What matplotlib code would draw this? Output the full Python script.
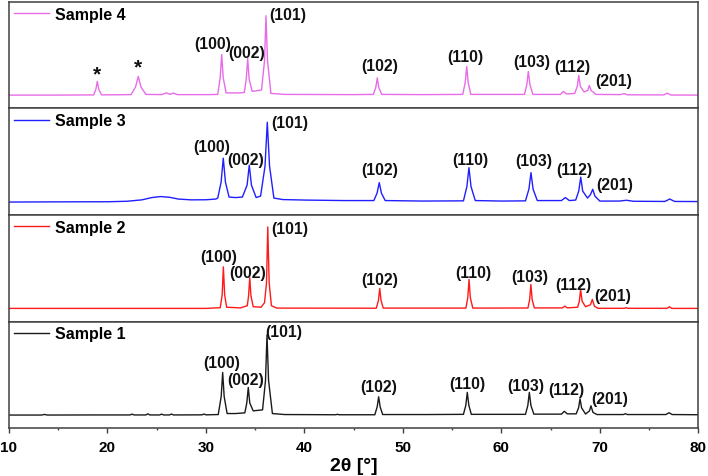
import numpy as np
import matplotlib
matplotlib.use('Agg')
import matplotlib.pyplot as plt

plt.rcParams['font.family'] = ['Liberation Sans', 'DejaVu Sans']
plt.rcParams['font.weight'] = 'bold'

# XRD traces: (2theta [deg], intensity [a.u.])
sample1 = [(10, 0.3), (13.3, 0.3), (13.6, 0.9), (13.9, 0.3), (18.8, 0.4), (22.3, 0.4), (22.5, 1.2), (22.7, 0.4),
           (23.9, 0.4), (24.1, 1.5), (24.3, 0.4), (25.3, 0.4), (25.5, 1.2), (25.7, 0.4), (26.3, 0.4), (26.5, 1.3),
           (26.7, 0.4), (29.6, 0.5), (29.8, 1.3), (30.0, 0.5), (31.25, 0.8), (31.55, 19), (31.70, 43), (31.85, 19),
           (32.15, 1.8), (33.0, 1.8), (33.95, 2.5), (34.15, 12.5), (34.30, 28), (34.45, 12.5), (34.8, 4.5),
           (35.75, 5.5), (36.05, 35), (36.20, 80.6), (36.36, 35), (36.75, 1.8), (38, 0.8), (43.2, 0.6),
           (43.35, 1.1), (43.5, 0.6), (47.15, 0.6), (47.39, 8.5), (47.54, 18.6), (47.69, 8.5), (47.95, 0.8),
           (52.5, 0.8), (56.15, 1), (56.39, 10), (56.54, 23), (56.7, 10), (56.95, 1), (62.45, 1), (62.69, 10),
           (62.84, 23), (63.0, 10), (63.3, 1.2), (66.1, 1.2), (66.39, 4), (66.7, 1.5), (67.6, 1.5), (67.84, 7.5),
           (67.99, 16.6), (68.15, 7.5), (68.55, 1.3), (68.95, 4.5), (69.1, 9.6), (69.3, 3), (69.7, 0.8),
           (72.4, 0.8), (72.6, 1.6), (72.8, 0.8), (76.7, 0.8), (77.03, 2.6), (77.35, 0.8), (80, 0.6)]

sample2 = [(10, 0.3), (30, 0.3), (31.45, 1), (31.65, 14), (31.77, 42), (31.9, 14), (32.1, 1.5), (33.5, 0.8),
           (34.2, 3), (34.33, 13), (34.45, 31), (34.57, 13), (34.8, 2), (35.6, 1.5), (35.95, 6), (36.15, 26),
           (36.28, 82), (36.42, 26), (36.65, 3), (37.2, 0.6), (47.3, 0.5), (47.52, 8.5), (47.65, 20.3),
           (47.78, 8.5), (48.0, 0.6), (56.4, 0.6), (56.59, 11), (56.72, 29.3), (56.85, 11), (57.1, 0.6),
           (62.7, 0.7), (62.87, 9), (63.0, 24.3), (63.13, 9), (63.35, 0.8), (66.2, 0.8), (66.45, 2.6), (66.7, 0.8),
           (67.75, 1.5), (67.92, 7.5), (68.05, 19.3), (68.2, 7.5), (68.55, 2), (69.05, 4), (69.24, 9.3),
           (69.45, 2.5), (69.8, 0.4), (72.5, 0.4), (72.66, 1), (72.85, 0.4), (76.85, 0.4), (77.06, 2), (77.3, 0.3),
           (80, 0.3)]

sample3 = [(10, 0), (15, 0.2), (20, 0.3), (22, 0.8), (23.5, 2.2), (24.5, 4.5), (25.4, 5.5), (26.3, 4.8),
           (27.2, 3), (28.5, 2.2), (30, 2.3), (31, 3), (31.2, 4), (31.54, 20), (31.76, 44), (31.98, 20),
           (32.35, 5), (33.0, 4.5), (33.7, 5), (34.18, 17), (34.4, 37), (34.62, 17), (35.1, 4.5), (35.55, 6),
           (36.0, 36), (36.23, 80), (36.46, 36), (36.9, 4), (37.8, 2.5), (40, 2), (44, 1.5), (47.05, 1.5),
           (47.38, 9), (47.6, 19.5), (47.82, 9), (48.2, 1.5), (52, 1), (56.15, 1.2), (56.5, 15.5), (56.71, 34.5),
           (56.92, 15.5), (57.35, 1.5), (60, 1), (62.45, 1.2), (62.8, 13), (63.01, 29.5), (63.22, 13),
           (63.65, 1.5), (66.1, 1.5), (66.5, 4.5), (66.9, 1.5), (67.55, 2), (67.86, 11), (68.06, 25), (68.26, 11),
           (68.75, 4), (69.05, 7.5), (69.28, 12.8), (69.5, 6), (70.0, 1), (72.0, 1), (72.7, 1.8), (73.4, 0.8),
           (76.6, 0.6), (77.1, 3), (77.6, 0.6), (80, 0.5)]

sample4 = [(10, 0.3), (15, 0.3), (18.6, 0.5), (18.82, 6), (18.97, 14), (19.12, 6), (19.4, 0.5), (22.4, 0.8),
           (22.85, 8.5), (23.13, 19), (23.4, 8.5), (23.9, 1), (25.5, 0.8), (26.0, 2.5), (26.35, 1), (26.7, 2.3),
           (27.1, 0.8), (30.5, 0.8), (31.2, 1), (31.45, 18), (31.6, 41), (31.75, 18), (32.05, 2.5), (33.5, 2.5),
           (33.9, 3), (34.09, 16), (34.24, 37), (34.39, 16), (34.7, 4), (35.65, 5.5), (35.95, 35), (36.1, 80),
           (36.25, 35), (36.6, 2), (38, 1), (45, 0.8), (47.0, 1), (47.25, 8), (47.4, 17.6), (47.55, 8),
           (47.85, 1), (52, 0.8), (56.08, 1), (56.33, 13), (56.48, 29), (56.63, 13), (56.9, 1), (62.35, 1),
           (62.59, 11), (62.74, 24), (62.9, 11), (63.2, 1), (66.0, 1), (66.29, 4), (66.6, 1.5), (67.45, 2),
           (67.71, 9), (67.86, 20), (68.02, 9), (68.4, 3.5), (68.78, 5), (68.93, 10), (69.12, 5), (69.6, 1),
           (72.1, 0.8), (72.46, 1.8), (72.8, 0.6), (76.5, 0.5), (76.85, 2.3), (77.2, 0.4), (80, 0.3)]

sample_names = ['Sample 4', 'Sample 3', 'Sample 2', 'Sample 1']
colors = ['#e86ce8', '#1f1fff', '#ff1a1a', '#1a1a1a']
xticks = [10, 20, 30, 40, 50, 60, 70, 80]

# reflection labels, placed by hand as in the figure: (text, x, y)
labels4 = [('*', 18.97, 21.6), ('*', 23.13, 28.3), ('(100)', 30.65, 51.6), ('(002)', 34.14, 42.6),
           ('(101)', 38.26, 81), ('(102)', 47.6, 30.3), ('(110)', 56.38, 39.3), ('(103)', 63.08, 34.3),
           ('(112)', 67.21, 29.3), ('(201)', 71.37, 15.3)]
labels3 = [('(100)', 30.59, 55.7), ('(002)', 34.07, 42.4), ('(101)', 38.54, 80), ('(102)', 47.6, 32.4),
           ('(110)', 56.82, 43), ('(103)', 63.24, 41.4), ('(112)', 67.38, 32.4), ('(201)', 71.47, 17.4)]
labels2 = [('(100)', 31.26, 52.6), ('(002)', 34.2, 36.6), ('(101)', 38.54, 80), ('(102)', 47.68, 29.3),
           ('(110)', 57.15, 36.6), ('(103)', 62.91, 32), ('(112)', 67.31, 24.3), ('(201)', 71.27, 13.3)]
labels1 = [('(100)', 31.6, 53.3), ('(002)', 34.07, 35.6), ('(101)', 37.86, 84), ('(102)', 47.57, 29),
           ('(110)', 56.58, 31.6), ('(103)', 62.5, 30), ('(112)', 66.64, 25.6), ('(201)', 70.96, 17.3)]

traces = [sample4, sample3, sample2, sample1]
all_labels = [labels4, labels3, labels2, labels1]

fig, axes = plt.subplots(4, 1, sharex=True, figsize=(7.08, 4.77), dpi=100,
                         gridspec_kw={'hspace': 0})
fig.subplots_adjust(left=0.0127, right=0.9863, top=0.9943, bottom=0.1)

for ax, trace, name, c, labs in zip(axes, traces, sample_names, colors, all_labels):
    d = np.array(trace)
    ax.plot(d[:, 0], d[:, 1], color=c, lw=1.0, label=name)
    ax.set_xlim(10, 80)
    ax.set_ylim(-13, 94)
    ax.set_yticks([])
    for s in ax.spines.values():
        s.set_color('#404040')
        s.set_linewidth(1.1)
    for txt, x, y in labs:
        fs = 15 if txt == '*' else 11.3
        ax.text(x, y, txt, ha='center', va='center', fontsize=fs, fontweight='bold', color='#111111')
    ax.legend(loc='upper left', frameon=False, handlelength=2.2, handletextpad=0.4,
              borderpad=0.1, borderaxespad=0.2, prop={'weight': 'bold', 'size': 11.5})
    ax.tick_params(axis='x', which='both', bottom=False, labelbottom=False)

ax = axes[-1]
ax.set_xticks(xticks)
ax.set_xticks(np.arange(15, 80, 10), minor=True)
ax.tick_params(axis='x', which='major', bottom=True, labelbottom=True, direction='out',
               length=3.3, width=1.0, pad=5, labelsize=11, color='#404040')
ax.tick_params(axis='x', which='minor', bottom=True, direction='out', length=1.6, width=1.0, color='#404040')
for lab in ax.get_xticklabels():
    lab.set_fontweight('bold')
ax.set_xlabel('2θ [°]', fontsize=14, fontweight='bold', labelpad=2)

plt.savefig('out.png', dpi=100)
